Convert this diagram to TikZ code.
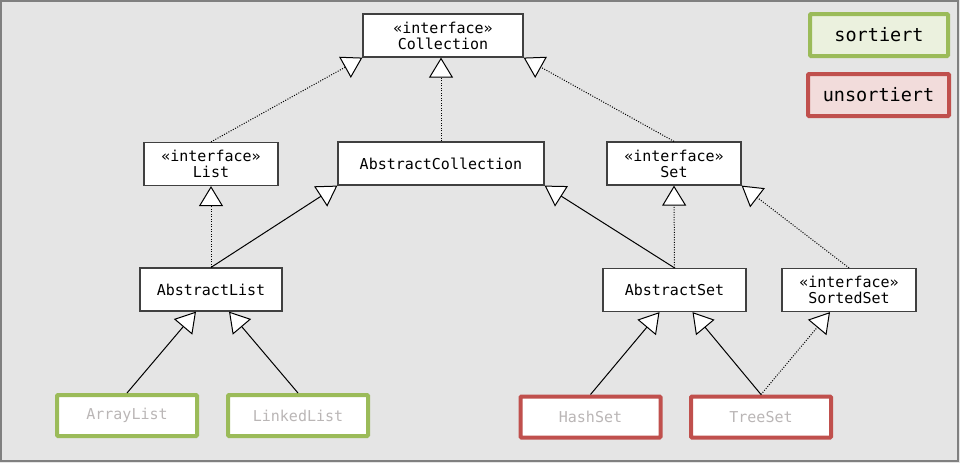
\documentclass[tikz,border=0pt]{standalone}
\usepackage{fontspec}
\newfontfamily\umlfont{DejaVu Sans Mono}
\usetikzlibrary{arrows.meta}

\definecolor{bggray}{HTML}{E5E5E5}
\definecolor{framegray}{HTML}{808080}
\definecolor{okgreen}{HTML}{9BBB59}
\definecolor{okgreenfill}{HTML}{EBF1DE}
\definecolor{badred}{HTML}{C0504D}
\definecolor{badredfill}{HTML}{F2DCDB}
\definecolor{leafgray}{HTML}{BAB6B6}

\tikzset{
  cls/.style={draw=black!75, fill=white, line width=1.2pt, inner sep=0pt,
    minimum height=43pt, align=center,
    font=\umlfont\fontsize{15}{16}\selectfont},
  sorted/.style={cls, draw=okgreen, line width=4pt, text=leafgray,
    minimum width=140pt, minimum height=41pt, rounded corners=1pt},
  unsorted/.style={sorted, draw=badred},
  legend/.style={sorted, text=black, minimum height=42pt,
    font=\umlfont\fontsize{18.5}{20}\selectfont},
  inherit/.style={-{Triangle[length=20pt,width=24pt,fill=white]}, line width=1pt},
  implement/.style={inherit, dash pattern=on 1pt off 1.5pt}
}

\begin{document}
\begin{tikzpicture}[x=1pt, y=-1pt]

% background and frame
\useasboundingbox (0,0) rectangle (960,463);
\fill[bggray] (0,0) rectangle (960,463);
\draw[framegray, line width=2pt] (1,1) rectangle (958,461);

% interfaces and abstract classes
\node[cls, minimum width=160pt] (Collection) at (443,35.5) {«interface»\\Collection};
\node[cls, minimum width=134pt] (List) at (211,164) {«interface»\\List};
\node[cls, minimum width=206pt] (AbstractCollection) at (441,163.5) {AbstractCollection};
\node[cls, minimum width=134pt] (Set) at (674,163.5) {«interface»\\Set};
\node[cls, minimum width=142pt] (AbstractList) at (211,289.5) {AbstractList};
\node[cls, minimum width=143pt] (AbstractSet) at (674.5,290) {AbstractSet};
\node[cls, minimum width=134pt] (SortedSet) at (849,290) {«interface»\\SortedSet};

% concrete classes
\node[sorted] (ArrayList) at (127,415.5) {ArrayList};
\node[sorted] (LinkedList) at (298,415.5) {LinkedList};
\node[unsorted] (HashSet) at (590.5,417) {HashSet};
\node[unsorted] (TreeSet) at (761,417) {TreeSet};

% legend
\node[legend, fill=okgreenfill, minimum width=138pt] (sortiert) at (879,35) {sortiert};
\node[legend, draw=badred, fill=badredfill, minimum width=141pt] (unsortiert) at (878.5,95) {unsortiert};

% interface realisations
\draw[implement] (List.north) -- (Collection.south west);
\draw[implement] (AbstractCollection.north) -- (AbstractCollection.north |- Collection.south);
\draw[implement] (Set.north) -- (Collection.south east);
\draw[implement] (AbstractList.north) -- (List.south);
\draw[implement] (AbstractSet.north) -- (Set.south);
\draw[implement] (SortedSet.north) -- (Set.south east);
\draw[implement] (TreeSet.north) -- ([xshift=-19pt]SortedSet.south);

% class inheritance
\draw[inherit] (AbstractList.north) -- (AbstractCollection.south west);
\draw[inherit] (AbstractSet.north) -- (AbstractCollection.south east);
\draw[inherit] (ArrayList.north) -- ([xshift=-15pt]AbstractList.south);
\draw[inherit] (LinkedList.north) -- ([xshift=18pt]AbstractList.south);
\draw[inherit] (HashSet.north) -- ([xshift=-15pt]AbstractSet.south);
\draw[inherit] (TreeSet.north) -- ([xshift=18pt]AbstractSet.south);

\end{tikzpicture}
\end{document}
